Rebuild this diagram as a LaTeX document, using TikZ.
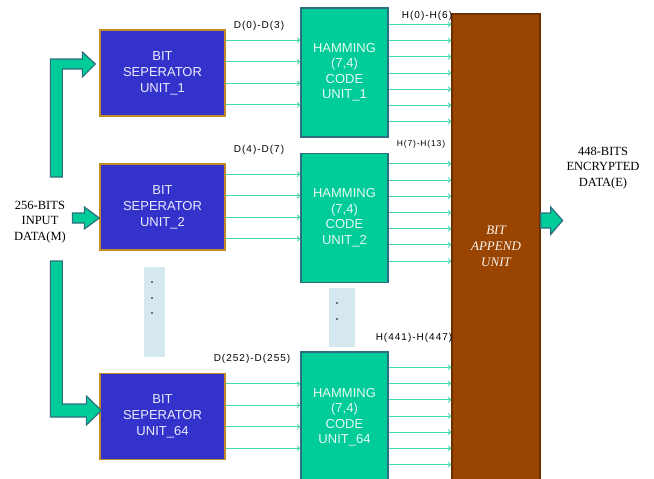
\documentclass[tikz,border=0pt]{standalone}
\usepackage{fontspec}
\setmainfont{Liberation Sans}
\newfontfamily\timesfont{Liberation Serif}
\newfontfamily\lblfont[LetterSpace=10]{Liberation Sans}
\usetikzlibrary{arrows.meta,positioning}
\definecolor{sepblue}{HTML}{3333CC}
\definecolor{sepedge}{HTML}{C08A26}
\definecolor{hamgreen}{HTML}{00CC99}
\definecolor{hamedge}{HTML}{2E6E7E}
\definecolor{appbrown}{HTML}{994400}
\definecolor{appedge}{HTML}{6B3000}
\definecolor{bitline}{HTML}{45D8B0}
\definecolor{gapblue}{HTML}{D5E8EF}
\tikzset{
  sepnode/.style={draw=sepedge, line width=1.3pt, fill=sepblue, align=center,
                  minimum width=125pt, minimum height=86pt, inner sep=0pt,
                  text=white!92!blue, font=\fontsize{13}{16}\selectfont},
  hamnode/.style={draw=hamedge, line width=1.3pt, fill=hamgreen, align=center,
                  minimum width=87pt, minimum height=129pt, inner sep=0pt,
                  text=white!90!hamgreen, font=\fontsize{13}{15.5}\selectfont},
  appnode/.style={draw=appedge, line width=1.3pt, fill=appbrown,
                  minimum width=88pt, minimum height=476pt, inner sep=0pt},
  gapbox/.style={fill=gapblue, inner sep=0pt},
  lbl/.style={font=\lblfont\fontsize{10}{12}\selectfont, inner sep=0pt},
  plain/.style={font=\timesfont\fontsize{12.5}{15.5}\selectfont, align=center, inner sep=0pt},
  fat/.style={draw=hamedge, line width=1.2pt, fill=hamgreen, line join=miter},
  bit/.style={draw=bitline, line width=0.9pt, -{Straight Barb[length=2.5pt,width=5pt]}},
}
\begin{document}
\begin{tikzpicture}[x=1pt,y=-1pt]
  \useasboundingbox (0,0) rectangle (654,479);

  \node[appnode] (app) at (496,252) {};
  \node[font=\timesfont\itshape\fontsize{13}{16}\selectfont, text=white!94!orange, align=center]
        (apptxt) at (496,246) {BIT\\APPEND\\UNIT};

  \node[sepnode] (bs1)  at (162.5,73)    {BIT\\SEPERATOR\\UNIT\_1};
  \node[sepnode] (bs2)  at (162.5,207)   {BIT\\SEPERATOR\\UNIT\_2};
  \node[sepnode] (bs64) at (162.5,416.5) {BIT\\SEPERATOR\\UNIT\_64};

  \node[hamnode] (hm1)  at (344.5,72.5) {HAMMING\\(7,4)\\CODE\\UNIT\_1};
  \node[hamnode] (hm2)  at (344.5,218)  {HAMMING\\(7,4)\\CODE\\UNIT\_2};
  \node[hamnode, minimum height=130pt] (hm64) at (344.5,417) {HAMMING\\(7,4)\\CODE\\UNIT\_64};

  \node[gapbox, minimum width=21pt, minimum height=90pt] (gap1) at (154.5,312) {};
  \node[gapbox, minimum width=26pt, minimum height=59pt] (gap2) at (342,317.5) {};
  \foreach \y in {282,298,313} \fill (152,\y) circle (0.9);
  \foreach \y in {303,319} \fill (337,\y) circle (0.9);

  \node[plain] (intxt)  at (40,222)  {256-BITS\\INPUT\\DATA(M)};
  \node[plain] (outtxt) at (603,168) {448-BITS\\ENCRYPTED\\DATA(E)};

  \node[lbl] (d1)  at (259,26)  {D(0)-D(3)};
  \node[lbl] (d2)  at (259,150) {D(4)-D(7)};
  \node[lbl] (d64) at (252,359) {D(252)-D(255)};
  \node[lbl] (h1)  at (427,16)  {H(0)-H(6)};
  \node[lbl, font=\lblfont\fontsize{8.5}{10}\selectfont] (h2) at (421,144) {H(7)-H(13)};
  \node[lbl] (h64) at (414,338) {H(441)-H(447)};

  \foreach \s/\h in {bs1/hm1, bs2/hm2, bs64/hm64}
    \foreach \k in {0,...,3} {
      \path ([yshift={-11pt-21.5pt*\k}]\s.north east) coordinate (p);
      \draw[bit] (p) -- (p -| \h.west);
    }
  \foreach \h/\o in {hm1/17, hm2/11, hm64/16}
    \foreach \k in {0,...,6} {
      \path ([yshift={-\o pt-16.2pt*\k}]\h.north east) coordinate (q);
      \draw[bit] (q) -- (q -| app.west);
    }

  \draw[fat] ([xshift=-4pt,yshift=9pt]bs1.west) -- ++(-13,-12) -- ++(0,7) -- ++(-32,0)
    -- ++(0,118) -- ++(12,0) -- ++(0,-108) -- ++(20,0) -- ++(0,8) -- cycle;
  \draw[fat] ([yshift=-11pt]bs2.west) -- ++(-15,-11) -- ++(0,6) -- ++(-12,0)
    -- ++(0,10) -- ++(12,0) -- ++(0,6) -- cycle;
  \draw[fat] ([xshift=2pt,yshift=6pt]bs64.west) -- ++(-15,-14.5) -- ++(0,8) -- ++(-24,0)
    -- ++(0,-143) -- ++(-12,0) -- ++(0,156) -- ++(36,0) -- ++(0,8) -- cycle;
  \draw[fat] ([xshift=22pt,yshift=31.5pt]app.east) -- ++(-12,-13.5) -- ++(0,6) -- ++(-10,0)
    -- ++(0,15) -- ++(10,0) -- ++(0,6.5) -- cycle;
\end{tikzpicture}
\end{document}
